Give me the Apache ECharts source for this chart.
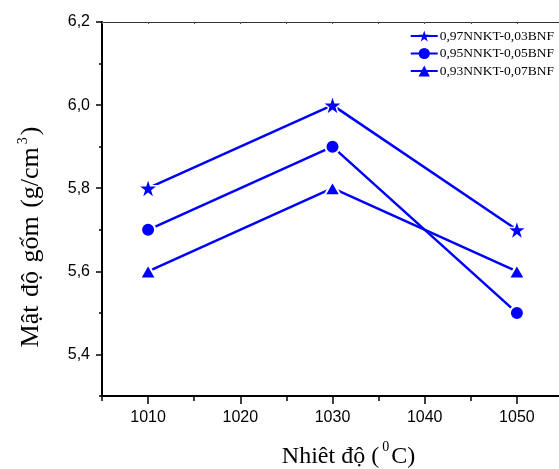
<!DOCTYPE html>
<html>
<head>
<meta charset="utf-8">
<script src="https://cdn.jsdelivr.net/npm/echarts@6/dist/echarts.min.js"></script>
<style>
  html, body { margin: 0; padding: 0; background: #ffffff; }
  #chart { width: 559px; height: 469px; }
</style>
</head>
<body>
<div id="chart"></div>
<script>
// Sintering temperature (°C) and ceramic density (g/cm3) for three compositions
const temperatures = [1010, 1030, 1050];
const seriesNames = ['0,97NNKT-0,03BNF', '0,95NNKT-0,05BNF', '0,93NNKT-0,07BNF'];
const density097 = [5.8, 6.0, 5.7];
const density095 = [5.7, 5.9, 5.5];
const density093 = [5.6, 5.8, 5.6];

// Axis ranges and tick positions
const xRange = [1005, 1055];
const yRange = [5.3, 6.2];
const xMajorTicks = [1010, 1020, 1030, 1040, 1050];
const xMinorTicks = [1005, 1015, 1025, 1035, 1045, 1055];
const xTopTicks = [1005, 1010, 1015, 1020, 1025, 1030, 1035, 1040, 1045, 1050, 1055];
const xTickLabels = ['1010', '1020', '1030', '1040', '1050'];
const yMajorTicks = [5.4, 5.6, 5.8, 6.0, 6.2];
const yMinorTicks = [5.3, 5.5, 5.7, 5.9, 6.1];
const yTickLabels = ['5,4', '5,6', '5,8', '6,0', '6,2'];

const BLUE = '#0000ff';
const STAR = 'path://M50,0 L61.8,35.1 L98.9,35.1 L68.9,56.8 L80.3,91.9 L50,70.2 L19.7,91.9 L31.1,56.8 L1.1,35.1 L38.2,35.1 Z';

function labelFor(values, labels) {
  return function (v) {
    const i = values.findIndex(function (t) { return Math.abs(t - v) < 1e-6; });
    return i >= 0 ? labels[i] : '';
  };
}

function toPoints(values) {
  return temperatures.map(function (t, i) { return [t, values[i]]; });
}

// Serif axis titles: a tall line box keeps the main text centred while the
// superscript sits at the top of the box
function titleRich(size, gap, extra) {
  const lh = size + extra;
  return {
    t: { fontFamily: 'Liberation Serif', fontSize: size, lineHeight: lh, color: '#000', verticalAlign: 'middle' },
    s: { fontFamily: 'Liberation Serif', fontSize: size, lineHeight: lh, color: '#000', verticalAlign: 'middle', padding: [0, gap, 0, gap] },
    sup: { fontFamily: 'Liberation Serif', fontSize: 14, lineHeight: 14, color: '#000', verticalAlign: 'top', padding: [0, 2, 0, 3] }
  };
}

function lineSeries(name, values, symbol, size, border) {
  return {
    type: 'line',
    name: name,
    data: toPoints(values),
    xAxisIndex: 0,
    yAxisIndex: 0,
    symbol: symbol,
    symbolSize: size,
    lineStyle: { color: BLUE, width: 2.5 },
    itemStyle: { color: BLUE, borderColor: '#ffffff', borderWidth: border },
    emphasis: { disabled: true }
  };
}

const chart = echarts.init(document.getElementById('chart'), null, { renderer: 'canvas' });

chart.setOption({
  animation: false,
  backgroundColor: '#ffffff',
  grid: { left: 102, top: 22, right: -4, bottom: 73, outerBoundsMode: 'none', containLabel: false },
  legend: {
    orient: 'vertical',
    right: 0,
    top: 24,
    itemWidth: 27,
    itemHeight: 14,
    itemGap: 3.5,
    data: seriesNames,
    itemStyle: { borderWidth: 0 },
    textStyle: { fontFamily: 'Liberation Serif', fontSize: 13.5, color: '#000', padding: [0, 0, 0, -3] }
  },
  xAxis: [
    {
      type: 'value',
      position: 'bottom',
      min: xRange[0],
      max: xRange[1],
      axisLine: { show: true, lineStyle: { color: '#000', width: 2 } },
      axisTick: { show: true, customValues: xMajorTicks, length: 8, lineStyle: { color: '#000', width: 1.5 } },
      axisLabel: {
        customValues: xMajorTicks,
        formatter: labelFor(xMajorTicks, xTickLabels),
        margin: 14,
        fontFamily: 'Liberation Sans',
        fontSize: 16,
        color: '#000'
      },
      splitLine: { show: false },
      name: '{t|Nhiêt độ (}{sup|0}{t|C)}',
      nameLocation: 'middle',
      nameGap: 44,
      nameTextStyle: { rich: titleRich(24, 0, 10), padding: [0, 0, 0, 32] }
    },
    {
      type: 'value',
      position: 'bottom',
      min: xRange[0],
      max: xRange[1],
      axisLine: { show: false },
      axisTick: { show: true, customValues: xMinorTicks, length: 5, lineStyle: { color: '#000', width: 1.5 } },
      axisLabel: { show: false },
      splitLine: { show: false }
    },
    {
      type: 'value',
      position: 'top',
      min: xRange[0],
      max: xRange[1],
      axisLine: { show: true, lineStyle: { color: '#333', width: 1 } },
      axisTick: { show: true, inside: true, customValues: xTopTicks, length: 2, lineStyle: { color: '#555', width: 1 } },
      axisLabel: { show: false },
      splitLine: { show: false }
    }
  ],
  yAxis: [
    {
      type: 'value',
      position: 'left',
      min: yRange[0],
      max: yRange[1],
      axisLine: { show: true, lineStyle: { color: '#000', width: 2 } },
      axisTick: { show: true, customValues: yMajorTicks, length: 6, lineStyle: { color: '#000', width: 1.5 } },
      axisLabel: {
        customValues: yMajorTicks,
        formatter: labelFor(yMajorTicks, yTickLabels),
        margin: 12,
        fontFamily: 'Liberation Sans',
        fontSize: 16,
        color: '#000'
      },
      splitLine: { show: false },
      name: '{t|Mật}{s| }{t|độ}{s| }{t|gốm}{s| }{t|(g/cm}{sup|3}{t|)}',
      nameLocation: 'middle',
      nameRotate: 90,
      nameGap: 56,
      nameTextStyle: { rich: titleRich(26, 1, 4), padding: [0, 56, 0, 0] }
    },
    {
      type: 'value',
      position: 'left',
      min: yRange[0],
      max: yRange[1],
      axisLine: { show: false },
      axisTick: { show: true, customValues: yMinorTicks, length: 3, lineStyle: { color: '#000', width: 1.5 } },
      axisLabel: { show: false },
      splitLine: { show: false }
    }
  ],
  series: [
    lineSeries(seriesNames[0], density097, STAR, 20, 1.5),
    lineSeries(seriesNames[1], density095, 'circle', 14, 2),
    lineSeries(seriesNames[2], density093, 'triangle', [16, 14], 2)
  ]
});
</script>
</body>
</html>
